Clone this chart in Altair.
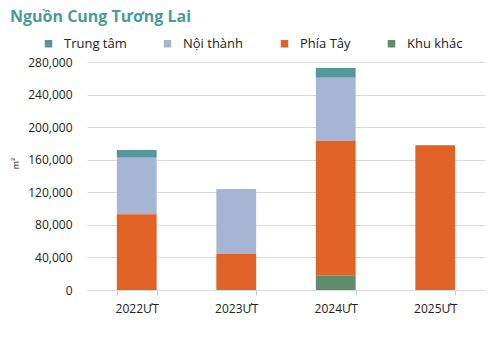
import altair as alt
import pandas as pd

years = ["2022ƯT", "2023ƯT", "2024ƯT", "2025ƯT"]
series = ["Trung tâm", "Nội thành", "Phía Tây", "Khu khác"]
colors = ["#55979A", "#A5B5D3", "#E16227", "#5F8C6C"]
trung_tam = [9400, 0, 11900, 0]
noi_thanh = [69500, 79400, 77300, 0]
phia_tay = [93000, 44600, 165800, 177700]
khu_khac = [0, 0, 17600, 0]
stack_rank = {"Khu khác": 0, "Phía Tây": 1, "Nội thành": 2, "Trung tâm": 3}

rows = []
for name, vals in zip(series, [trung_tam, noi_thanh, phia_tay, khu_khac]):
    for y, v in zip(years, vals):
        rows.append({"year": y, "series": name, "value": v, "rank": stack_rank[name]})
df = pd.DataFrame(rows)

FONT = "Open Sans"

chart = alt.Chart(df).mark_bar().encode(
    x=alt.X("year:N", sort=years, title=None,
            scale=alt.Scale(paddingInner=0.6, paddingOuter=0.3),
            axis=alt.Axis(labelAngle=0, tickBand="extent", domainColor="#D9D9D9",
                          tickColor="#C8C8C8", tickSize=5, labelPadding=8,
                          labelFontSize=12, labelColor="#222222", labelFont=FONT)),
    y=alt.Y("value:Q", stack="zero", title="m²",
            scale=alt.Scale(domain=[0, 280000]),
            axis=alt.Axis(values=list(range(0, 280001, 40000)), format=",.0f",
                          domain=False, ticks=False, labelPadding=15,
                          gridColor="#D9D9D9", labelFontSize=12, labelColor="#222222",
                          labelFont=FONT, titleFontSize=9, titleFontWeight="normal",
                          titleColor="#222222", titleFont=FONT, titleX=-67, titleY=101,
                          titleAngle=-90)),
    color=alt.Color("series:N", scale=alt.Scale(domain=series, range=colors),
                    legend=alt.Legend(title=None, orient="none", direction="horizontal",
                                      legendX=-45, legendY=-25, symbolType="square",
                                      symbolSize=56, symbolStrokeWidth=0, labelFontSize=13,
                                      labelFont=FONT, labelColor="#222222", labelOffset=9,
                                      columnPadding=34)),
    order=alt.Order("rank:Q", sort="ascending"),
).properties(
    width=398, height=228,
    padding={"left": 87, "top": 62, "right": 14, "bottom": 47},
    autosize=alt.AutoSizeParams(type="none"),
    title=alt.TitleParams("Nguồn Cung Tương Lai", anchor="start", frame="group",
                          dx=-77, offset=12, fontSize=16, fontWeight="bold",
                          color="#4A9B98", font=FONT),
).configure_view(stroke=None)

chart.save("out.html", embed_options={"renderer": "svg", "actions": False})
